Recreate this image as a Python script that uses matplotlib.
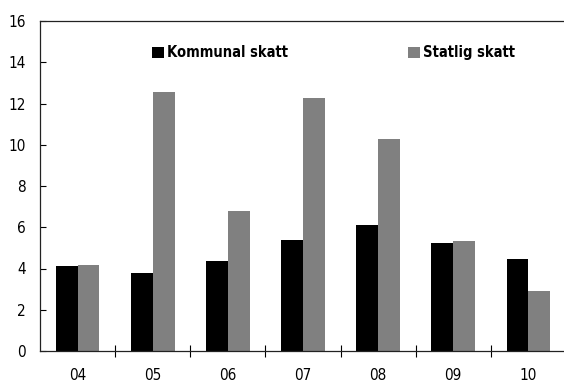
import numpy as np
import matplotlib
matplotlib.use('Agg')
import matplotlib.pyplot as plt

years = ['04', '05', '06', '07', '08', '09', '10']
kommunal = [4.14, 3.76, 4.34, 5.40, 6.12, 5.25, 4.48]
statlig = [4.19, 12.58, 6.80, 12.29, 10.27, 5.35, 2.89]

plt.rcParams['font.family'] = ['DejaVu Sans']
plt.rcParams['font.stretch'] = 'condensed'

fig = plt.figure(figsize=(5.64, 3.83), dpi=100)
ax = fig.add_axes([40/564, 32/383, 526/564, 330/383])

x = np.arange(len(years))
w = 0.29
b1 = ax.bar(x - w/2, kommunal, w, color='black', label='Kommunal skatt')
b2 = ax.bar(x + w/2, statlig, w, color='#808080', label='Statlig skatt')

ax.set_xlim(-0.5, len(years) - 0.5)
ax.set_ylim(0, 16)
ax.set_yticks(np.arange(0, 17, 2))
ax.tick_params(axis='y', direction='in', length=4, pad=10, labelsize=11, width=0.8)

# category labels centred, ticks at the boundaries
ax.set_xticks(x)
ax.set_xticklabels(years, fontsize=11)
ax.tick_params(axis='x', which='major', length=0, pad=12)
ax.set_xticks(np.arange(0.5, len(years) - 0.5), minor=True)
ax.tick_params(axis='x', which='minor', direction='inout', length=8, width=0.8)

ax.spines['right'].set_visible(False)
for s in ['left', 'top', 'bottom']:
    ax.spines[s].set_linewidth(0.9)
    ax.spines[s].set_color('#222222')

leg = ax.legend(handles=[b1, b2], loc='upper left', bbox_to_anchor=(99/526, 0.966),
                ncol=2, frameon=False, handlelength=0.8, handleheight=0.8,
                handletextpad=0.25, columnspacing=8.2,
                prop={'weight': 'bold', 'size': 10.5, 'stretch': 'condensed'})

fig.savefig('out.png', dpi=100)
